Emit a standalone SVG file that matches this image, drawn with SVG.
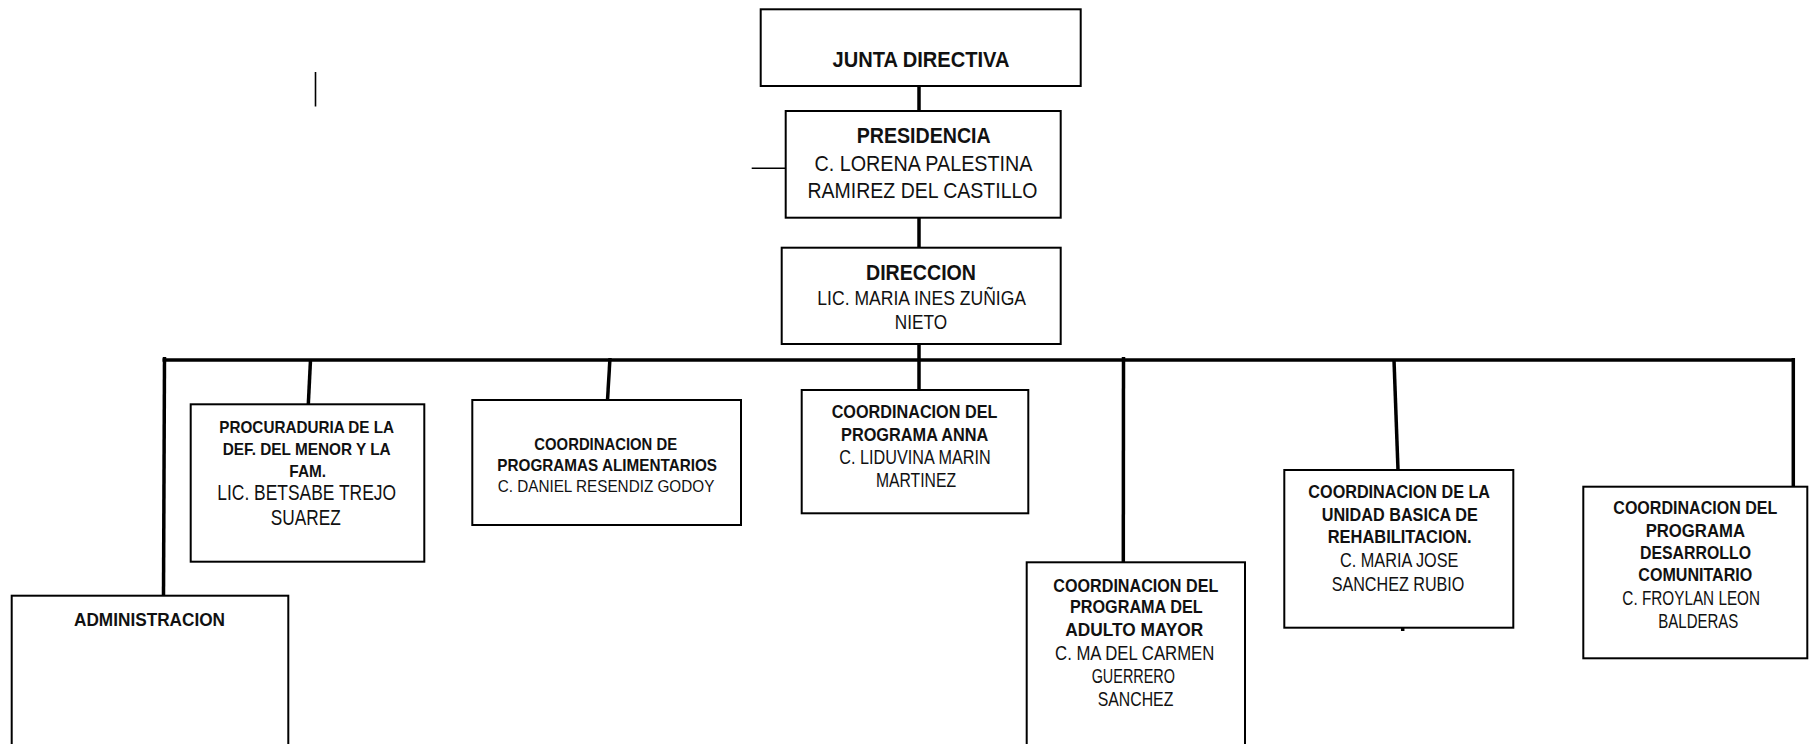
<svg xmlns="http://www.w3.org/2000/svg" width="1813" height="744" viewBox="0 0 1813 744">
<style>
.box{fill:#fff;stroke:#000;stroke-width:2}
.ln{stroke:#000;stroke-width:3.5;fill:none;stroke-linecap:butt}
.thin{stroke:#000;stroke-width:1.6;fill:none}
text{font-family:"Liberation Sans",Arial,sans-serif;text-anchor:middle;fill:#111}
.b{font-weight:bold}
.t22{font-size:22px}
.t21{font-size:21px}
.t18{font-size:18px}
.t16{font-size:16.5px}
</style>
<rect width="1813" height="744" fill="#fff"/>
<g id="connectors">
<line class="ln" x1="919" y1="86" x2="919" y2="111"/>
<line class="ln" x1="919" y1="217.7" x2="919" y2="247.7"/>
<line class="ln" x1="919" y1="344" x2="919" y2="390"/>
<line class="ln" x1="162.5" y1="360" x2="1795" y2="360"/>
<line class="ln" x1="164.5" y1="357" x2="163.5" y2="596"/>
<line class="ln" x1="310.5" y1="360" x2="308.3" y2="404.3"/>
<line class="ln" x1="610" y1="358" x2="607.5" y2="400"/>
<line class="ln" x1="1123.5" y1="357" x2="1123.3" y2="562.3"/>
<line class="ln" x1="1394" y1="360" x2="1398" y2="470"/>
<line class="ln" x1="1793.3" y1="358" x2="1793.3" y2="486.7"/>
<line class="ln" x1="1402.7" y1="627.7" x2="1402.7" y2="631"/>
<line class="thin" x1="751.7" y1="168.3" x2="785.7" y2="168.3"/>
<line class="thin" x1="315.5" y1="72" x2="315.5" y2="106.5"/>
</g>
<g id="junta">
<rect class="box" x="760.7" y="9.3" width="320" height="76.7"/>
<text class="b t22" x="921" y="67.3" textLength="177" lengthAdjust="spacingAndGlyphs">JUNTA DIRECTIVA</text>
</g>
<g id="presidencia">
<rect class="box" x="785.7" y="111" width="275" height="106.7"/>
<text class="b t22" x="923.7" y="142.7" textLength="134" lengthAdjust="spacingAndGlyphs">PRESIDENCIA</text>
<text class="t22" x="923.5" y="170.7" textLength="218" lengthAdjust="spacingAndGlyphs">C. LORENA PALESTINA</text>
<text class="t22" x="922.5" y="198.3" textLength="230" lengthAdjust="spacingAndGlyphs">RAMIREZ DEL CASTILLO</text>
</g>
<g id="direccion">
<rect class="box" x="781.7" y="247.7" width="279" height="96.3"/>
<text class="b t22" x="921" y="280" textLength="110" lengthAdjust="spacingAndGlyphs">DIRECCION</text>
<text class="t21" x="921.7" y="305" textLength="208.7" lengthAdjust="spacingAndGlyphs">LIC. MARIA INES ZUÑIGA</text>
<text class="t21" x="921" y="329.3" textLength="52.3" lengthAdjust="spacingAndGlyphs">NIETO</text>
</g>
<g id="administracion">
<rect class="box" x="11.7" y="595.7" width="276.6" height="160"/>
<text class="b t18" x="149.5" y="626" textLength="151" lengthAdjust="spacingAndGlyphs">ADMINISTRACION</text>
</g>
<g id="procuraduria">
<rect class="box" x="190.7" y="404.3" width="233.6" height="157.4"/>
<text class="b t16" x="306.7" y="433.3" textLength="174.7" lengthAdjust="spacingAndGlyphs">PROCURADURIA DE LA</text>
<text class="b t16" x="306.7" y="455" textLength="168" lengthAdjust="spacingAndGlyphs">DEF. DEL MENOR Y LA</text>
<text class="b t16" x="307.7" y="476.7" textLength="36.7" lengthAdjust="spacingAndGlyphs">FAM.</text>
<text class="t22" x="306.7" y="500" textLength="178.7" lengthAdjust="spacingAndGlyphs">LIC. BETSABE TREJO</text>
<text class="t22" x="305.7" y="525" textLength="70" lengthAdjust="spacingAndGlyphs">SUAREZ</text>
</g>
<g id="alimentarios">
<rect class="box" x="472.3" y="400" width="268.7" height="125"/>
<text class="b t16" x="605.7" y="450" textLength="142.7" lengthAdjust="spacingAndGlyphs">COORDINACION DE</text>
<text class="b t16" x="607.2" y="471" textLength="219.7" lengthAdjust="spacingAndGlyphs">PROGRAMAS ALIMENTARIOS</text>
<text class="t16" x="606" y="492" textLength="216.7" lengthAdjust="spacingAndGlyphs">C. DANIEL RESENDIZ GODOY</text>
</g>
<g id="anna">
<rect class="box" x="801.7" y="390" width="226.6" height="123.3"/>
<text class="b t18" x="914.5" y="418.3" textLength="165.7" lengthAdjust="spacingAndGlyphs">COORDINACION DEL</text>
<text class="b t18" x="914.7" y="440.7" textLength="147.3" lengthAdjust="spacingAndGlyphs">PROGRAMA ANNA</text>
<text class="t21" x="915" y="464.3" textLength="151.3" lengthAdjust="spacingAndGlyphs">C. LIDUVINA MARIN</text>
<text class="t21" x="916" y="487.3" textLength="80" lengthAdjust="spacingAndGlyphs">MARTINEZ</text>
</g>
<g id="adulto-mayor">
<rect class="box" x="1026.7" y="562.3" width="218.3" height="200"/>
<text class="b t18" x="1135.8" y="591.7" textLength="165" lengthAdjust="spacingAndGlyphs">COORDINACION DEL</text>
<text class="b t18" x="1136.3" y="613.3" textLength="132.7" lengthAdjust="spacingAndGlyphs">PROGRAMA DEL</text>
<text class="b t18" x="1134.3" y="636" textLength="138" lengthAdjust="spacingAndGlyphs">ADULTO MAYOR</text>
<text class="t21" x="1134.7" y="660" textLength="159.3" lengthAdjust="spacingAndGlyphs">C. MA DEL CARMEN</text>
<text class="t21" x="1133.3" y="682.7" textLength="83.3" lengthAdjust="spacingAndGlyphs">GUERRERO</text>
<text class="t21" x="1135.5" y="706" textLength="75.7" lengthAdjust="spacingAndGlyphs">SANCHEZ</text>
</g>
<g id="rehabilitacion">
<rect class="box" x="1284.3" y="470" width="229" height="157.7"/>
<text class="b t18" x="1399.2" y="497.7" textLength="181.7" lengthAdjust="spacingAndGlyphs">COORDINACION DE LA</text>
<text class="b t18" x="1399.7" y="521" textLength="156" lengthAdjust="spacingAndGlyphs">UNIDAD BASICA DE</text>
<text class="b t18" x="1399.7" y="543.3" textLength="144" lengthAdjust="spacingAndGlyphs">REHABILITACION.</text>
<text class="t21" x="1399.2" y="567.3" textLength="118.3" lengthAdjust="spacingAndGlyphs">C. MARIA JOSE</text>
<text class="t21" x="1398" y="590.7" textLength="132.7" lengthAdjust="spacingAndGlyphs">SANCHEZ RUBIO</text>
</g>
<g id="desarrollo">
<rect class="box" x="1583.3" y="486.7" width="224" height="171.6"/>
<text class="b t18" x="1695.3" y="514.3" textLength="164" lengthAdjust="spacingAndGlyphs">COORDINACION DEL</text>
<text class="b t18" x="1695.3" y="536.7" textLength="99.3" lengthAdjust="spacingAndGlyphs">PROGRAMA</text>
<text class="b t18" x="1695.5" y="559" textLength="111" lengthAdjust="spacingAndGlyphs">DESARROLLO</text>
<text class="b t18" x="1695.3" y="581" textLength="114" lengthAdjust="spacingAndGlyphs">COMUNITARIO</text>
<text class="t21" x="1691.2" y="605" textLength="137.7" lengthAdjust="spacingAndGlyphs">C. FROYLAN LEON</text>
<text class="t21" x="1698.3" y="628.3" textLength="80" lengthAdjust="spacingAndGlyphs">BALDERAS</text>
</g>
</svg>
